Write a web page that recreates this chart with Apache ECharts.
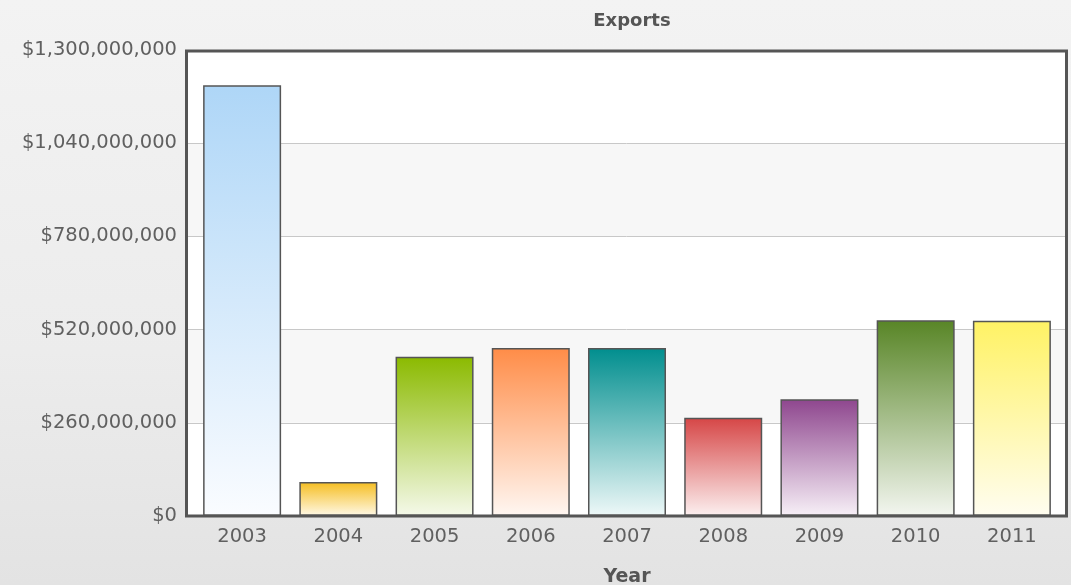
<!DOCTYPE html>
<html>
<head>
<meta charset="utf-8">
<script src="https://cdn.jsdelivr.net/npm/echarts@6/dist/echarts.min.js"></script>
<style>
html,body{margin:0;padding:0;}
#c{width:1071px;height:585px;background:linear-gradient(to bottom,#f3f3f3 0%,#ececec 60%,#e3e3e3 100%);}
</style>
</head>
<body>
<div id="c"></div>
<script>
const categories = ['2003','2004','2005','2006','2007','2008','2009','2010','2011'];
const exportsValues = [1202000000, 95000000, 444000000, 469000000, 469000000, 274000000, 326000000, 546000000, 545000000];
const yTicks = [0, 260000000, 520000000, 780000000, 1040000000, 1300000000];
const topColors = ['#aed6f7','#f5bd1f','#8bba00','#ff8c47','#008e8e','#d64646','#8e468e','#588526','#fff264'];
const bottomColors = ['#fafcff','#fff9e8','#f5f9ea','#fff7f2','#eef8f8','#fcf0f0','#f7f0f7','#f3f6f0','#fffdf0'];

const chart = echarts.init(document.getElementById('c'));
const fmt = v => '$' + v.toLocaleString('en-US');
const yMin = yTicks[0], yMax = yTicks[yTicks.length - 1], yStep = yTicks[1] - yTicks[0];
const lab = {fontFamily: 'DejaVu Sans', fontSize: 19.5, color: '#606060'};
const G = {left: 185, right: 3, top: 50, bottom: 69};
chart.setOption({
  backgroundColor: 'transparent',
  animation: false,
  title: {
    text: 'Exports', left: 627, top: 7, textAlign: 'center',
    textStyle: {fontFamily: 'DejaVu Sans', fontSize: 18, fontWeight: 'bold', color: '#555'}
  },
  graphic: [{
    type: 'rect', z: 100, silent: true,
    shape: {x: G.left + 1.5, y: G.top + 1, width: 1071 - G.left - G.right - 3, height: 585 - G.top - G.bottom - 1},
    style: {fill: null, stroke: '#555', lineWidth: 3}
  }],
  grid: [
    Object.assign({outerBoundsMode: 'none', containLabel: false, show: true, backgroundColor: '#fff', borderWidth: 0}, G),
    {left: 194, right: 11, top: G.top, bottom: G.bottom, outerBoundsMode: 'none', containLabel: false}
  ],
  xAxis: [
    {type: 'category', gridIndex: 0, data: categories, show: false},
    {
      type: 'category', gridIndex: 1, data: categories,
      name: 'Year', nameLocation: 'middle', nameGap: 52,
      nameTextStyle: {fontFamily: 'DejaVu Sans', fontSize: 19, fontWeight: 'bold', color: '#555'},
      axisLine: {show: false}, axisTick: {show: false},
      axisLabel: Object.assign({margin: 11}, lab)
    }
  ],
  yAxis: [
    {
      type: 'value', gridIndex: 0, min: yMin, max: yMax, interval: yStep,
      axisLine: {show: false}, axisTick: {show: false},
      axisLabel: Object.assign({margin: 8, formatter: fmt}, lab),
      splitLine: {lineStyle: {color: '#c8c8c8', width: 1}},
      splitArea: {show: true, areaStyle: {color: ['#ffffff', '#f7f7f7']}}
    },
    {type: 'value', gridIndex: 1, min: yMin, max: yMax, interval: yStep, show: false, splitLine: {show: false}}
  ],
  series: [{
    type: 'bar', xAxisIndex: 1, yAxisIndex: 1, barWidth: 78,
    data: exportsValues.map((v, i) => ({
      value: v,
      itemStyle: {
        color: new echarts.graphic.LinearGradient(0, 0, 0, 1, [
          {offset: 0, color: topColors[i]},
          {offset: 1, color: bottomColors[i]}
        ]),
        borderColor: '#555', borderWidth: 1.5
      }
    }))
  }]
});
</script>
</body>
</html>
